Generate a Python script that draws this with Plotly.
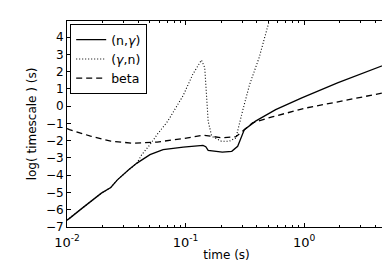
import plotly.graph_objects as go

# (n,gamma) timescale
t_ng = [0.0100, 0.0105, 0.0132, 0.0166, 0.0195, 0.0234, 0.0266, 0.0331, 0.0389, 0.0501,
        0.0646, 0.0955, 0.140, 0.148, 0.155, 0.204, 0.245, 0.275, 0.295, 0.313,
        0.389, 0.575, 0.955, 1.91, 4.90]
v_ng = [-6.6, -6.5, -5.95, -5.43, -5.04, -4.71, -4.27, -3.69, -3.30, -2.81,
        -2.52, -2.38, -2.27, -2.35, -2.56, -2.66, -2.62, -2.33, -1.74, -1.36,
        -0.87, -0.20, 0.48, 1.35, 2.42]

# (gamma,n) timescale
t_gn = [0.0100, 0.0132, 0.0166, 0.0195, 0.0234, 0.0266, 0.0331, 0.0389, 0.0427, 0.0501,
        0.0575, 0.0708, 0.0955, 0.115, 0.136, 0.145, 0.150, 0.155, 0.166, 0.200,
        0.234, 0.266, 0.302, 0.347, 0.417, 0.490, 0.56]
v_gn = [-6.6, -5.95, -5.43, -5.04, -4.71, -4.27, -3.69, -3.30, -2.81, -2.23,
        -1.65, -0.87, 0.62, 1.84, 2.67, 2.23, 0.67, -0.87, -1.74, -2.03,
        -2.03, -1.84, -0.29, 1.26, 2.81, 4.55, 6.0]

# beta timescale
t_b = [0.0100, 0.0105, 0.0158, 0.0234, 0.0363, 0.0575, 0.0955, 0.141, 0.204, 0.266,
       0.302, 0.367, 0.537, 1.05, 1.93, 4.47, 4.90]
v_b = [-1.3, -1.36, -1.74, -2.03, -2.15, -2.08, -1.88, -1.68, -1.84, -1.77,
       -1.45, -0.97, -0.62, -0.10, 0.25, 0.77, 0.80]

x_tickvals = [0.01, 0.1, 1]
x_ticktext = ["10<sup>-2</sup>", "10<sup>-1</sup>", "10<sup>0</sup>"]
x_minor = [0.02, 0.03, 0.04, 0.05, 0.06, 0.07, 0.08, 0.09,
           0.2, 0.3, 0.4, 0.5, 0.6, 0.7, 0.8, 0.9, 2, 3, 4]
y_tickvals = [-7, -6, -5, -4, -3, -2, -1, 0, 1, 2, 3, 4]

fig = go.Figure()
fig.add_trace(go.Scatter(x=t_ng, y=v_ng, mode="lines", name="(n,<i>γ</i>)",
                         line=dict(color="black", width=1.3)))
fig.add_trace(go.Scatter(x=t_gn, y=v_gn, mode="lines", name="(<i>γ</i>,n)",
                         line=dict(color="black", width=1.1, dash="1px,2px")))
fig.add_trace(go.Scatter(x=t_b, y=v_b, mode="lines", name="beta",
                         line=dict(color="black", width=1.3, dash="6px,4px")))

fig.update_layout(
    width=390, height=265,
    margin=dict(l=59, r=12, t=13, b=46),
    paper_bgcolor="white", plot_bgcolor="white",
    font=dict(family="DejaVu Sans", size=12, color="black"),
    showlegend=True,
    legend=dict(x=0.01, y=0.985, xanchor="left", yanchor="top",
                bordercolor="black", borderwidth=1, bgcolor="white",
                font=dict(size=12.5), tracegroupgap=0, itemwidth=30),
    xaxis=dict(type="log", range=[-2, 0.69], tickmode="array",
               tickvals=x_tickvals, ticktext=x_ticktext,
               ticks="inside", ticklen=4, tickcolor="black",
               showline=True, linecolor="black", linewidth=1, mirror="allticks",
               showgrid=False, zeroline=False,
               minor=dict(tickmode="array", tickvals=x_minor, ticks="inside",
                          ticklen=2, tickcolor="black", showgrid=False),
               title=dict(text="time (s)", font=dict(size=12), standoff=2),
               tickfont=dict(size=13), ticklabelstandoff=3),
    yaxis=dict(range=[-7, 4.93], tickmode="array", tickvals=y_tickvals,
               ticks="inside", ticklen=4, tickcolor="black",
               showline=True, linecolor="black", linewidth=1, mirror="allticks",
               showgrid=False, zeroline=False,
               title=dict(text="log( timescale ) (s)", font=dict(size=12), standoff=6),
               tickfont=dict(size=12)),
)

fig.write_html("out.html")
